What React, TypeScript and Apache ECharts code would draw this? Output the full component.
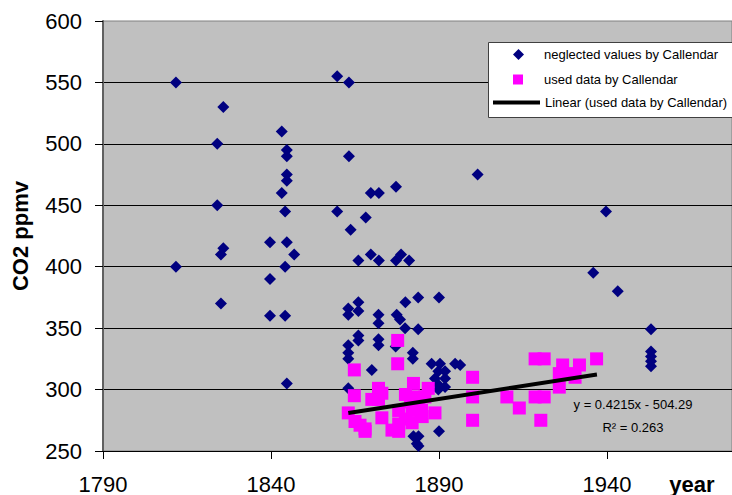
import React, { useEffect, useRef } from "react";
import * as echarts from "echarts";

const neglectedYear = [
  1811.7, 1811.7, 1824, 1824, 1825.8, 1825.8, 1825.1, 1825.1, 1839.7, 1839.7,
  1839.7, 1843.2, 1843.2, 1844.7, 1844.7, 1844.7, 1844.7, 1844.2, 1844.7, 1846.9,
  1844.2, 1844.2, 1844.7, 1859.7, 1863.2, 1863.2, 1859.7, 1868.2, 1863.7, 1869.7,
  1872.1, 1877.2, 1866, 1869.7, 1872.1, 1877.2, 1878.7, 1881.1, 1883.8, 1890,
  1880, 1866, 1863, 1866, 1863, 1872, 1872, 1877.4, 1878.4, 1879.9,
  1883.8, 1866, 1866, 1863, 1863, 1863, 1872, 1872, 1877.1, 1882.2,
  1882.2, 1870, 1887.8, 1890.3, 1894.8, 1896.3, 1889.8, 1891.8, 1888.8, 1891.8,
  1889.8, 1891.8, 1889.8, 1863, 1890, 1882.4, 1883.9, 1883.4, 1883.9, 1901.5,
  1935.9, 1939.7, 1943.2, 1953.1, 1953.1, 1953.1, 1953.1, 1953.1,
];
const neglectedCO2 = [
  550, 400, 500, 450, 530, 415, 410, 370, 420, 390,
  360, 510, 460, 495, 490, 475, 470, 445, 420, 410,
  400, 360, 305, 555, 550, 490, 445, 440, 430, 460,
  460, 465, 405, 410, 405, 405, 410, 405, 375, 375,
  371, 371, 366, 364, 361, 361, 354, 361, 357, 350,
  349, 344, 340, 336, 330, 325, 341, 336, 335, 330,
  325, 316, 321, 321, 321, 320, 315, 315, 309, 309,
  304, 302, 300, 301, 266, 262, 262, 256, 254, 475,
  395, 445, 380, 349, 331, 327, 323, 319,
];

const usedYear = [
  1863, 1864.8, 1864.8, 1865, 1866.5, 1868, 1868, 1870, 1872, 1872,
  1872, 1873, 1873, 1876, 1877.7, 1877.7, 1878, 1878, 1878, 1880,
  1881.5, 1882, 1882, 1882.4, 1883, 1884, 1884.8, 1885.8, 1886.8, 1888.8,
  1880, 1885, 1900, 1900, 1900, 1910.2, 1913.9, 1918.6, 1921.3, 1918.6,
  1921.3, 1920.3, 1925.8, 1925.8, 1926.8, 1929, 1930.5, 1931.8, 1936.9,
];
const usedCO2 = [
  281, 316, 295, 274, 271, 268, 266, 292, 301, 292,
  294, 277, 297, 267, 340, 321, 283, 272, 266, 296,
  290, 283, 273, 305, 294, 286, 283, 294, 301, 281,
  276, 278, 310, 294, 275, 294, 285, 325, 325, 294,
  294, 275, 313, 302, 320, 313, 310, 320, 325,
];

const trendYear = [1863, 1937];
const trendCO2 = [280.9, 312.2];

const xTickValues = [1790, 1840, 1890, 1940];

const seriesNames = [
  "neglected values by Callendar",
  "used data by Callendar",
  "Linear (used data by Callendar)",
];

const FONT = "'Liberation Sans', Arial, sans-serif";

export default function App() {
  const ref = useRef<HTMLDivElement>(null);
  useEffect(() => {
    if (!ref.current) return;
    const chart = echarts.init(ref.current, undefined, { renderer: "svg" });
    const legendText = { fontFamily: FONT, fontSize: 13, color: "#000" };
    chart.setOption({
      animation: false,
      backgroundColor: "#fff",
      grid: {
        left: 103,
        top: 21,
        right: 0,
        bottom: 44,
        show: true,
        backgroundColor: "#C0C0C0",
        borderColor: "#808080",
        borderWidth: 1,
      },
      xAxis: {
        type: "value",
        min: 1790,
        max: 1977.2,
        interval: 50,
        axisLine: { show: true, onZero: false, lineStyle: { color: "#000", width: 1 } },
        axisTick: {
          show: true,
          length: 8,
          inside: false,
          customValues: xTickValues,
          lineStyle: { color: "#000" },
        },
        axisLabel: {
          fontFamily: FONT,
          fontSize: 22,
          color: "#000",
          margin: 22,
          customValues: xTickValues,
          formatter: (v: number) => String(Math.round(v)),
        },
        splitLine: { show: false },
      },
      yAxis: {
        type: "value",
        min: 250,
        max: 600,
        interval: 50,
        name: "CO2 ppmv",
        nameLocation: "middle",
        nameGap: 72,
        nameRotate: 90,
        nameTextStyle: { fontFamily: FONT, fontSize: 22, fontWeight: "bold", color: "#000" },
        axisLine: { show: true, lineStyle: { color: "#606060", width: 2 } },
        axisTick: { show: true, length: 8, inside: false, lineStyle: { color: "#000" } },
        axisLabel: { fontFamily: FONT, fontSize: 22, color: "#000", margin: 21 },
        splitLine: {
          show: true,
          showMinLine: false,
          showMaxLine: false,
          lineStyle: { color: "#000", width: 1 },
        },
      },
      legend: [
        {
          data: [{ name: seriesNames[0], icon: "diamond" }],
          left: 513,
          top: 48,
          padding: 0,
          itemWidth: 11,
          itemHeight: 11,
          selectedMode: false,
          textStyle: { ...legendText, padding: [0, 0, 0, 15] },
        },
        {
          data: [{ name: seriesNames[1], icon: "rect" }],
          left: 513,
          top: 73,
          padding: 0,
          itemWidth: 10,
          itemHeight: 10,
          selectedMode: false,
          textStyle: { ...legendText, padding: [0, 0, 0, 16] },
        },
        {
          data: [{ name: seriesNames[2], icon: "path://M0,0H47V4H0Z" }],
          left: 493,
          top: 96,
          padding: 0,
          itemWidth: 47,
          itemHeight: 4,
          selectedMode: false,
          itemStyle: { color: "#000" },
          textStyle: { ...legendText },
        },
      ],
      graphic: [
        {
          type: "rect",
          z: 3,
          shape: { x: 488.5, y: 42.5, width: 260, height: 75 },
          style: { fill: "#fff", stroke: "#404040", lineWidth: 1 },
        },
        {
          type: "text",
          z: 5,
          x: 633,
          y: 404,
          style: {
            text: "y = 0.4215x - 504.29",
            fontFamily: FONT,
            fontSize: 13,
            fill: "#000",
            align: "center",
            verticalAlign: "middle",
          },
        },
        {
          type: "text",
          z: 5,
          x: 633,
          y: 427,
          style: {
            text: "R² = 0.263",
            fontFamily: FONT,
            fontSize: 13,
            fill: "#000",
            align: "center",
            verticalAlign: "middle",
          },
        },
        {
          type: "text",
          z: 5,
          x: 692,
          y: 484,
          style: {
            text: "year",
            fontFamily: FONT,
            fontSize: 22,
            fontWeight: "bold",
            fill: "#000",
            align: "center",
            verticalAlign: "middle",
          },
        },
      ],
      series: [
        {
          name: seriesNames[0],
          type: "scatter",
          symbol: "diamond",
          symbolSize: 12,
          itemStyle: { color: "#000080", opacity: 1 },
          data: neglectedYear.map((y, i) => [y, neglectedCO2[i]]),
          z: 2,
        },
        {
          name: seriesNames[1],
          type: "scatter",
          symbol: "rect",
          symbolSize: 13,
          itemStyle: { color: "#FF00FF", opacity: 1 },
          data: usedYear.map((y, i) => [y, usedCO2[i]]),
          z: 3,
        },
        {
          name: seriesNames[2],
          type: "line",
          symbol: "none",
          showSymbol: false,
          lineStyle: { color: "#000", width: 4 },
          itemStyle: { color: "#000" },
          data: trendYear.map((y, i) => [y, trendCO2[i]]),
          z: 4,
        },
      ],
    });
    return () => chart.dispose();
  }, []);
  return (
    <div
      ref={ref}
      style={{ position: "fixed", left: 0, top: 0, width: 732, height: 495 }}
    />
  );
}
